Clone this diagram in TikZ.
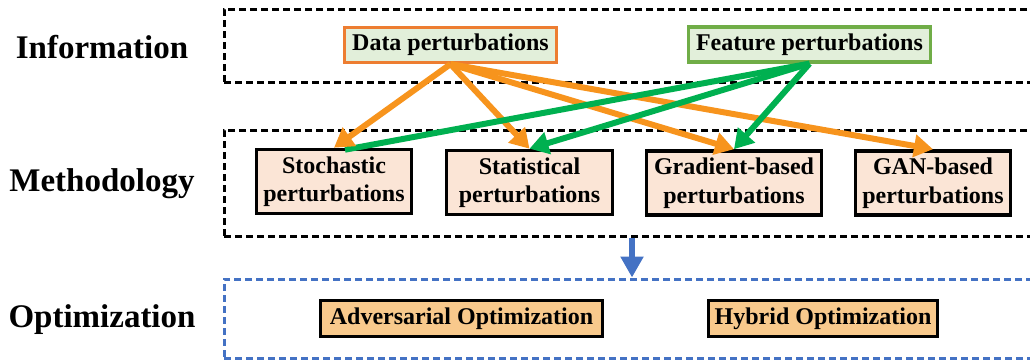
\documentclass[tikz,border=0pt]{standalone}
\usepackage{fontspec}
\setmainfont{Liberation Serif}
\usetikzlibrary{arrows.meta}
\definecolor{arrOrange}{RGB}{247,148,29}
\definecolor{arrGreen}{RGB}{0,176,80}
\definecolor{arrBlue}{RGB}{68,114,196}
\definecolor{infoFill}{RGB}{226,239,218}
\definecolor{dataBorder}{RGB}{237,125,49}
\definecolor{featBorder}{RGB}{112,173,71}
\definecolor{methFill}{RGB}{251,229,214}
\definecolor{optFill}{RGB}{248,201,140}
\begin{document}
\begin{tikzpicture}[x=1pt,y=-1pt,
  dashbox/.style={draw, line width=3pt, dash pattern=on 7pt off 4pt, inner sep=0pt, minimum width=816pt},
  lbl/.style={font=\fontsize{33}{38}\selectfont\bfseries, inner sep=0pt},
  boxtxt/.style={inner sep=0pt, align=center, font=\fontsize{24}{28.5}\selectfont\bfseries},
  infobox/.style={boxtxt, fill=infoFill, line width=3.2pt, minimum height=35pt},
  methbox/.style={boxtxt, draw=black, fill=methFill, line width=3.6pt, minimum height=64pt},
  optbox/.style={boxtxt, draw=black, fill=optFill, line width=3.6pt, minimum height=36pt},
  oarr/.style={draw=arrOrange, line width=6pt, -{Triangle[length=19pt,width=22pt]}},
  garr/.style={draw=arrGreen, line width=6pt, -{Triangle[length=19pt,width=22pt]}},
  gline/.style={draw=arrGreen, line width=6pt}
]
\useasboundingbox (0,0) rectangle (1030,360);

% dashed frames
\node[dashbox, minimum height=73pt] (frameInfo) at (632,45.5) {};
\node[dashbox, minimum height=106pt] (frameMeth) at (632,183) {};
\node[dashbox, draw=arrBlue, minimum height=79pt] (frameOpt) at (632,318.5) {};

% row labels
\node[lbl] (lInfo) at (102,47) {Information};
\node[lbl] (lMeth) at (102,184) {Methodology};
\node[lbl] (lOpt) at (102,320) {Optimization};

% information nodes
\node[infobox, draw=dataBorder, minimum width=212pt] (data) at (450.5,45) {Data perturbations};
\node[infobox, draw=featBorder, minimum width=242pt] (feat) at (809.5,44.5) {Feature perturbations};

% methodology nodes
\node[methbox, minimum width=155pt] (stoch) at (334,181.5) {Stochastic\\perturbations};
\node[methbox, minimum width=166pt] (stat) at (529.5,182.5) {Statistical\\perturbations};
\node[methbox, minimum width=175pt] (grad) at (734,183) {Gradient-based\\perturbations};
\node[methbox, minimum width=155pt] (gan) at (933,183) {GAN-based\\perturbations};

% optimization nodes
\node[optbox, minimum width=282pt] (adv) at (461.5,318.5) {Adversarial Optimization};
\node[optbox, minimum width=229pt] (hyb) at (823,318.5) {Hybrid Optimization};

% connectors
\draw[oarr] (data.south) -- (stat.north);
\draw[oarr] (data.south) -- (grad.north);
\draw[oarr] (data.south) -- (gan.north);
\draw[gline] (feat.south) -- ([xshift=11pt,yshift=-2pt]stoch.north);
\draw[garr] (feat.south) -- (stat.north);
\draw[garr] (feat.south) -- (grad.north);
\draw[oarr] (data.south) -- (stoch.north);

\draw[draw=arrBlue, line width=6.5pt, -{Triangle[length=21pt,width=22pt]}] (frameMeth.south) -- (frameOpt.north);
\end{tikzpicture}
\end{document}
